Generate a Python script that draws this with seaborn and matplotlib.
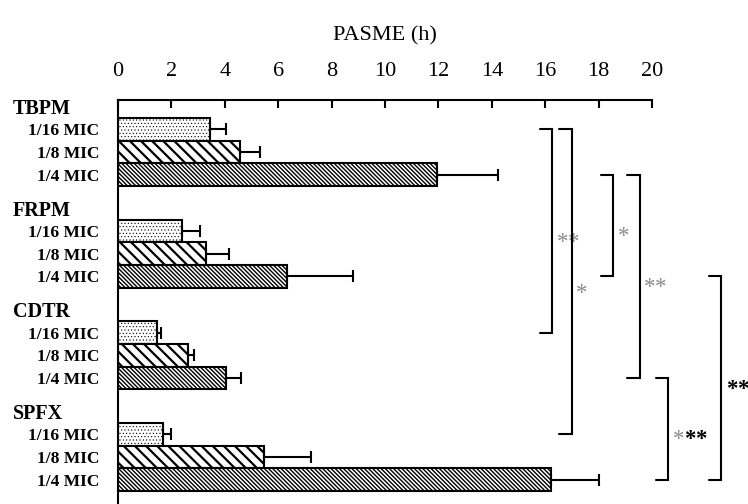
import numpy as np
import pandas as pd
import matplotlib
matplotlib.use("Agg")
import matplotlib.pyplot as plt
import matplotlib.transforms as mtransforms
import seaborn as sns

# ---- data -------------------------------------------------------------
drugs = ["TBPM", "FRPM", "CDTR", "SPFX"]
levels = ["1/16 MIC", "1/8 MIC", "1/4 MIC"]

tbpm_mean = [3.45, 4.57, 11.94]
tbpm_sd = [0.58, 0.75, 2.30]
frpm_mean = [2.38, 3.28, 6.34]
frpm_sd = [0.69, 0.87, 2.47]
cdtr_mean = [1.47, 2.64, 4.04]
cdtr_sd = [0.14, 0.22, 0.56]
spfx_mean = [1.70, 5.47, 16.20]
spfx_sd = [0.27, 1.76, 1.83]

x_ticks = [0, 2, 4, 6, 8, 10, 12, 14, 16, 18, 20]

# significance brackets: (first bar, last bar, x of the bracket, stars, star colours)
brackets = [
    (0, 6, 16.27, "**", ["#8a8a8a", "#8a8a8a"]),
    (0, 9, 17.00, "*", ["#8a8a8a"]),
    (2, 5, 18.55, "*", ["#8a8a8a"]),
    (2, 8, 19.55, "**", ["#8a8a8a", "#8a8a8a"]),
    (8, 11, 20.61, "***", ["#8a8a8a", "black", "black"]),
    (5, 11, 22.60, "**", ["black", "black"]),
]

# ---- long table -------------------------------------------------------
group_step = 4.5  # bar heights from one drug block to the next
means = [tbpm_mean, frpm_mean, cdtr_mean, spfx_mean]
sds = [tbpm_sd, frpm_sd, cdtr_sd, spfx_sd]
rows = []
for g, drug in enumerate(drugs):
    for i, lvl in enumerate(levels):
        rows.append({"drug": drug, "level": lvl, "pos": g * group_step + i,
                     "pasme": means[g][i], "sd": sds[g][i]})
df = pd.DataFrame(rows)

# ---- style ------------------------------------------------------------
sns.set_style("white")
plt.rcParams["font.family"] = ["Liberation Serif", "DejaVu Serif"]
plt.rcParams["hatch.linewidth"] = 1.2
for key in ["text.color", "axes.labelcolor", "xtick.color", "ytick.color"]:
    plt.rcParams[key] = "black"

fig = plt.figure(figsize=(7.48, 5.04), dpi=100)
W, H = 748, 504
ax = fig.add_axes([118 / W, 0, 534 / W, 404 / H])

sns.barplot(data=df, x="pasme", y="pos", hue="level", hue_order=levels,
            orient="h", native_scale=True, dodge=False, width=1.0,
            palette={lvl: "white" for lvl in levels}, edgecolor="black",
            linewidth=1.5, errorbar=None, legend=False, ax=ax)

# dotted / wide diagonal / dense diagonal fills
hatches = [".....", "\\" * 3, "\\" * 8]
hatch_widths = [0.4, 1.6, 1.0]
for container, hatch, hw in zip(ax.containers, hatches, hatch_widths):
    for bar in container:
        bar.set_hatch(hatch)
        if hasattr(bar, "set_hatch_linewidth"):
            bar.set_hatch_linewidth(hw)

ax.errorbar(df["pasme"], df["pos"], xerr=[np.zeros(len(df)), df["sd"]],
            fmt="none", ecolor="black", elinewidth=1.5, capsize=4.2,
            capthick=1.5, zorder=3)

# ---- axes -------------------------------------------------------------
ax.set_xlim(0, 20)
ax.set_ylim(-1.3 + 404 / 22.6, -1.3)
ax.xaxis.tick_top()
ax.xaxis.set_label_position("top")
ax.set_xticks(x_ticks)
ax.set_xticklabels([str(t) for t in x_ticks])
ax.tick_params(axis="x", direction="in", length=5.5, width=1.5, pad=14,
               labelsize=16, top=True, bottom=False, colors="black")
ax.set_xlabel("PASME (h)", fontsize=16, labelpad=15, color="black")

ax.set_yticks(df["pos"])
ax.set_yticklabels(df["level"], fontsize=12.5, fontweight="bold")
ax.tick_params(axis="y", length=0, pad=13.5, colors="black")
ax.set_ylabel("")

for side in ["right", "bottom"]:
    ax.spines[side].set_visible(False)
for side in ["top", "left"]:
    ax.spines[side].set_linewidth(1.5)
    ax.spines[side].set_color("black")

# drug names above each block
trans = mtransforms.blended_transform_factory(fig.transFigure, ax.transData)
for g, drug in enumerate(drugs):
    ax.text(13 / W, g * group_step - 0.68, drug, transform=trans,
            ha="left", va="baseline", fontsize=14.5, fontweight="bold",
            color="black")

# ---- significance brackets -------------------------------------------
pos = df["pos"].to_numpy()
arm = 0.47
for a, b, xb, stars, colours in brackets:
    ya, yb = pos[a], pos[b]
    ax.plot([xb - arm, xb, xb, xb - arm], [ya, ya, yb, yb], color="black",
            lw=1.5, clip_on=False, solid_joinstyle="miter", zorder=4)
    ym = (ya + yb) / 2
    for k, (ch, col) in enumerate(zip(stars, colours)):
        ax.annotate(ch, xy=(xb, ym), xytext=(3.0 + k * 8.0, -12.0),
                    textcoords="offset points", ha="left", va="baseline",
                    fontsize=16.5, color=col,
                    fontweight="bold" if col == "black" else "normal",
                    annotation_clip=False)

fig.savefig("out.png", dpi=100)
